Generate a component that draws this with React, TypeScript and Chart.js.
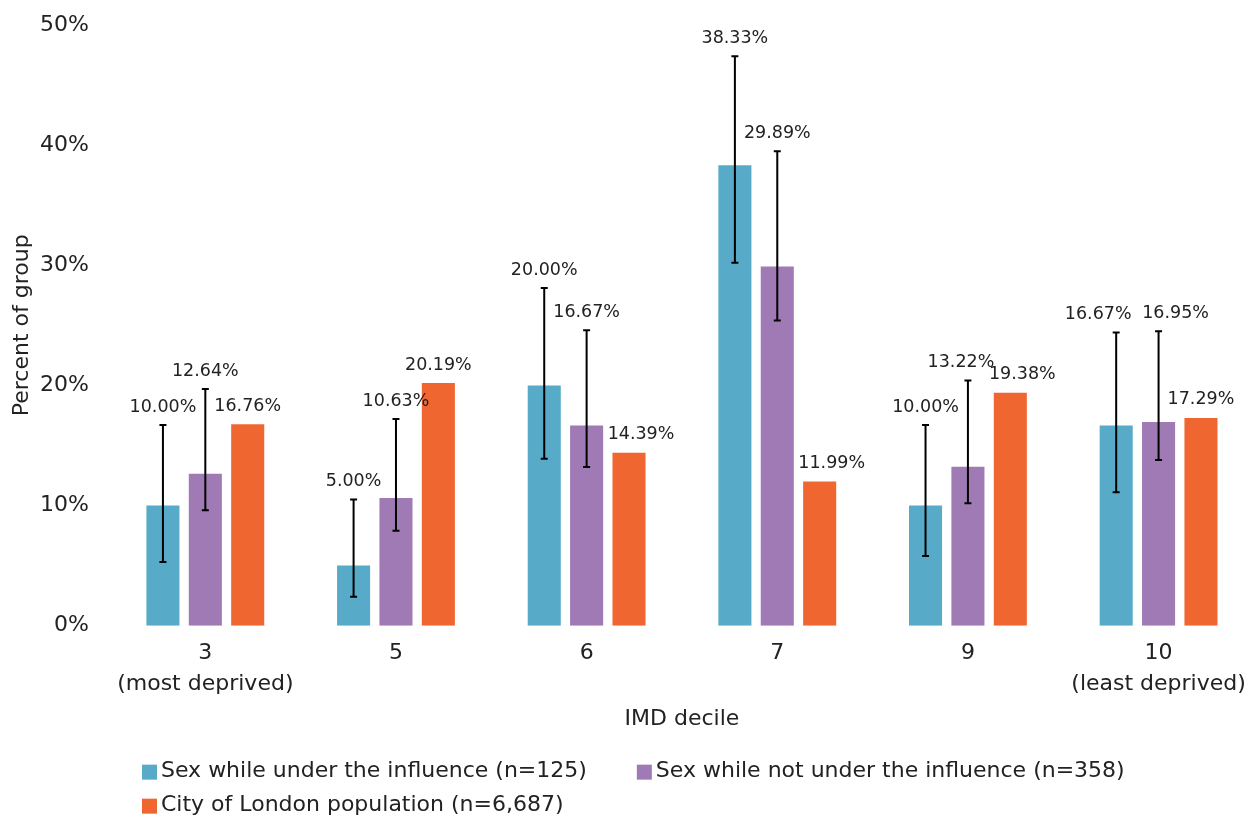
import React, { useEffect, useRef } from "react";
import { Chart, registerables } from "chart.js";

Chart.register(...registerables);

const categories: (string | string[])[] = [
  ["3", "(most deprived)"],
  "5",
  "6",
  "7",
  "9",
  ["10", "(least deprived)"],
];

const seriesNames = [
  "Sex while under the influence (n=125)",
  "Sex while not under the influence (n=358)",
  "City of London population (n=6,687)",
];

const underInfluence = [10.0, 5.0, 20.0, 38.33, 10.0, 16.67];
const underLow = [5.3, 2.4, 13.9, 30.2, 5.8, 11.1];
const underHigh = [16.7, 10.5, 28.1, 47.4, 16.7, 24.4];

const notUnder = [12.64, 10.63, 16.67, 29.89, 13.22, 16.95];
const notUnderLow = [9.6, 7.9, 13.2, 25.4, 10.2, 13.8];
const notUnderHigh = [19.7, 17.2, 24.6, 39.5, 20.4, 24.5];

const cityPop = [16.76, 20.19, 14.39, 11.99, 19.38, 17.29];

const yTicks = [0, 10, 20, 30, 40, 50];

// horizontal nudges of the value labels (px), per series, per category
const labelNudge = [
  [0, 0, 0, 0, 0, -18],
  [0, 0, 0, 0, -7, 17],
  [0, 0, 12, 12, 12, 0],
];

const colors = ["#57ABC8", "#A07AB4", "#F06630"];
const FONT = "'DejaVu Sans', sans-serif";
const TEXT = "#222222";

export default function App() {
  const ref = useRef<HTMLCanvasElement | null>(null);

  useEffect(() => {
    document.body.style.margin = "0";
    const canvas = ref.current!;
    const errors: ({ lo: number[]; hi: number[] } | null)[] = [
      { lo: underLow, hi: underHigh },
      { lo: notUnderLow, hi: notUnderHigh },
      null,
    ];

    const annot = {
      id: "annot",
      afterDatasetsDraw(chart: any) {
        const ctx = chart.ctx;
        const y = chart.scales.y;
        ctx.save();
        chart.data.datasets.forEach((ds: any, i: number) => {
          const meta = chart.getDatasetMeta(i);
          const err = errors[i];
          meta.data.forEach((bar: any, j: number) => {
            const x = bar.x;
            let top = bar.y;
            if (err) {
              const yt = y.getPixelForValue(err.hi[j]);
              const yb = y.getPixelForValue(err.lo[j]);
              ctx.strokeStyle = "#000";
              ctx.lineWidth = 2;
              ctx.beginPath();
              ctx.moveTo(x, yt);
              ctx.lineTo(x, yb);
              ctx.moveTo(x - 3.5, yt);
              ctx.lineTo(x + 3.5, yt);
              ctx.moveTo(x - 3.5, yb);
              ctx.lineTo(x + 3.5, yb);
              ctx.stroke();
              top = yt;
            }
            ctx.fillStyle = TEXT;
            ctx.font = `17.5px ${FONT}`;
            ctx.textAlign = "center";
            ctx.textBaseline = "middle";
            ctx.fillText(ds.data[j].toFixed(2) + "%", x + labelNudge[i][j], top - 18);
          });
        });
        ctx.restore();
      },
    };

    const legendPlugin = {
      id: "customLegend",
      afterDraw(chart: any) {
        const ctx = chart.ctx;
        const area = chart.chartArea;
        ctx.save();
        ctx.font = `22px ${FONT}`;
        ctx.textBaseline = "middle";
        ctx.textAlign = "left";
        const x0 = area.left + 32;
        const row1 = area.bottom + 146;
        const row2 = area.bottom + 180;
        const positions: [number, number][] = [];
        positions.push([x0, row1]);
        const w0 = ctx.measureText(seriesNames[0]).width;
        positions.push([x0 + 19 + w0 + 50, row1]);
        positions.push([x0, row2]);
        seriesNames.forEach((name, i) => {
          const [px, py] = positions[i];
          ctx.fillStyle = colors[i];
          ctx.fillRect(px, py - 7, 15, 15);
          ctx.fillStyle = TEXT;
          ctx.fillText(name, px + 19, py);
        });
        ctx.restore();
      },
    };

    const chart = new Chart(canvas, {
      type: "bar",
      data: {
        labels: categories,
        datasets: [
          { label: seriesNames[0], data: underInfluence, backgroundColor: colors[0] },
          { label: seriesNames[1], data: notUnder, backgroundColor: colors[1] },
          { label: seriesNames[2], data: cityPop, backgroundColor: colors[2] },
        ],
      },
      options: {
        animation: false,
        responsive: false,
        maintainAspectRatio: false,
        layout: { padding: { top: 25, right: 2, bottom: 94, left: 0 } },
        datasets: { bar: { categoryPercentage: 0.667, barPercentage: 0.78 } },
        plugins: {
          legend: { display: false },
          tooltip: { enabled: false },
        },
        scales: {
          x: {
            grid: { display: false, drawTicks: false },
            border: { display: false },
            ticks: {
              color: TEXT,
              font: { family: FONT, size: 22, lineHeight: 1.41 },
              padding: 12,
              maxRotation: 0,
              autoSkip: false,
            },
            title: {
              display: true,
              text: "IMD decile",
              color: TEXT,
              font: { family: FONT, size: 22, lineHeight: 0.65 },
              padding: { top: 0, bottom: 0 },
            },
          },
          y: {
            min: 0,
            max: 50,
            afterBuildTicks(scale: any) {
              scale.ticks = yTicks.map((v) => ({ value: v }));
            },
            afterFit(scale: any) {
              scale.width = 110;
              scale.paddingTop = 0;
              scale.paddingBottom = 0;
            },
            grid: { display: false, drawTicks: false },
            border: { display: false },
            ticks: {
              color: TEXT,
              font: { family: FONT, size: 22 },
              padding: 21,
              callback: (v: any) => v + "%",
            },
            title: {
              display: true,
              text: "Percent of group",
              color: TEXT,
              font: { family: FONT, size: 22 },
              padding: { top: 9, bottom: 0 },
            },
          },
        },
      },
      plugins: [annot, legendPlugin],
    } as any);

    return () => chart.destroy();
  }, []);

  return (
    <div style={{ position: "absolute", left: 0, top: 0, width: 1258, height: 820 }}>
      <canvas ref={ref} width={1258} height={820} style={{ display: "block", width: 1258, height: 820 }} />
    </div>
  );
}
